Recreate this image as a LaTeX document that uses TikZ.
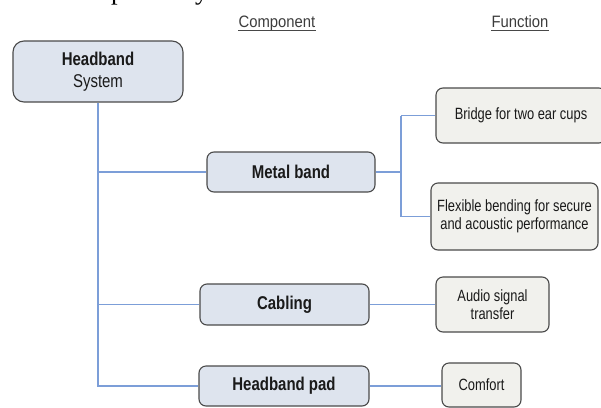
\documentclass[tikz,border=0pt]{standalone}
\usepackage{fontspec}
\setmainfont{Liberation Sans}
\newfontfamily\boxfont{Liberation Sans}[FakeStretch=0.81]
\newfontfamily\funcfont{Liberation Sans}[FakeStretch=0.79]
\newfontfamily\headfont{Liberation Sans}[FakeStretch=0.9]
\newfontfamily\pagefont{Liberation Serif}
\definecolor{compfill}{HTML}{DEE4EE}
\definecolor{funcfill}{HTML}{F1F1ED}
\definecolor{boxline}{HTML}{4A4A4A}
\definecolor{wireblue}{HTML}{7C9ED8}
\definecolor{ink}{HTML}{1A1A1A}
\tikzset{
  comp/.style={draw=boxline, fill=compfill, rounded corners=7pt, line width=1.1pt,
    text=ink, inner sep=0pt, font={\boxfont\bfseries\fontsize{18.5}{22}\selectfont}},
  func/.style={draw=boxline, fill=funcfill, rounded corners=7pt, line width=1.1pt,
    text=ink, inner sep=0pt, align=center, font={\funcfont\fontsize{16.3}{18.5}\selectfont}},
  wire/.style={draw=wireblue, line width=1.1pt},
  header/.style={anchor=base, text=ink!85, inner sep=0pt, font={\headfont\fontsize{16.5}{19}\selectfont}},
  headrule/.style={draw=ink!80, line width=0.8pt}
}
\begin{document}
\begin{tikzpicture}[x=1pt, y=-1pt]
\useasboundingbox (0,0) rectangle (601,407);
\clip (0,0) rectangle (601,407);

% tail of the running text above the figure
\node[anchor=base west, inner sep=0pt, font={\pagefont\fontsize{26.5}{30}\selectfont}] (pagetext) at (80,-1) {respectively};

% column headers
\node[header] (hcomp) at (277,27) {Component};
\node[header] (hfunc) at (520,27) {Function};
\draw[headrule] (hcomp.base west |- 0,30.5) -- (hcomp.base east |- 0,30.5);
\draw[headrule] (hfunc.base west |- 0,30.5) -- (hfunc.base east |- 0,30.5);

% root
\node[comp, rounded corners=11pt, minimum width=170pt, minimum height=61pt, align=center,
  font={\boxfont\fontsize{18.5}{22}\selectfont}] (hs) at (98,71.5) {\textbf{Headband}\\System};

% components
\node[comp, minimum width=168pt, minimum height=40pt] (mb) at (291,172) {Metal band};
\node[comp, minimum width=169pt, minimum height=41pt] (cb) at (284.5,304.5) {Cabling};
\node[comp, minimum width=170pt, minimum height=40pt] (hp) at (284,386) {Headband pad};

% functions
\node[func, minimum width=170pt, minimum height=55pt] (br) at (521,115.5) {Bridge for two ear cups};
\node[func, minimum width=167pt, minimum height=67pt] (fx) at (514.5,216.5) {Flexible bending for secure\\and acoustic performance};
\node[func, minimum width=113pt, minimum height=55pt] (au) at (492.5,304.5) {Audio signal\\transfer};
\node[func, minimum width=79pt, minimum height=44pt] (cf) at (481.5,385) {Comfort};

% trunk and branches
\draw[wire] (hs.south) -- (hs.south |- hp.west) -- (hp.west);
\draw[wire] (hs.south |- mb.west) -- (mb.west);
\draw[wire] (hs.south |- cb.west) -- (cb.west);

\coordinate (split) at (401,172);
\draw[wire] (mb.east) -- (split);
\draw[wire] (split |- br.west) -- (split |- fx.west);
\draw[wire] (split |- br.west) -- (br.west);
\draw[wire] (split |- fx.west) -- (fx.west);

\draw[wire] (cb.east) -- (cb.east -| au.west);
\draw[wire] (hp.east) -- (hp.east -| cf.west);
\end{tikzpicture}
\end{document}
